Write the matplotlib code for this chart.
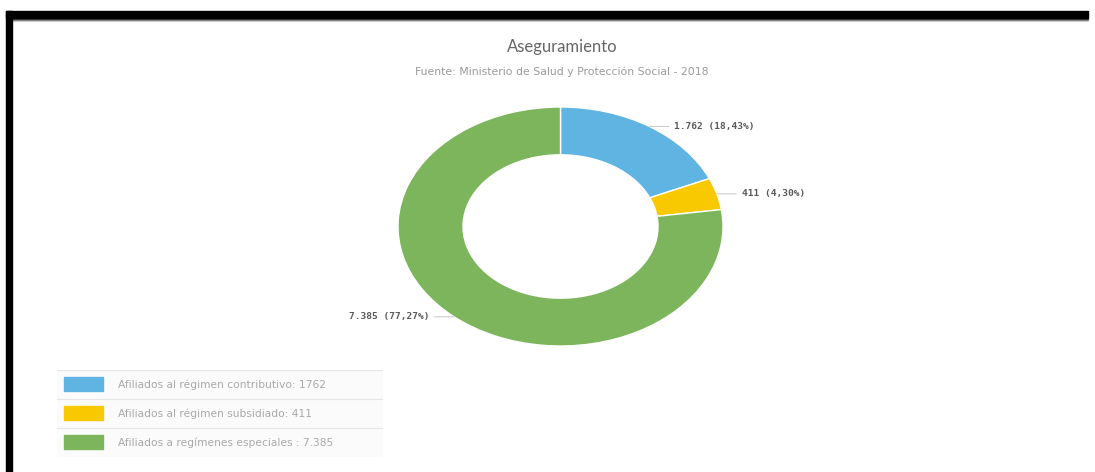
import matplotlib.pyplot as plt
from matplotlib.patches import Rectangle
import numpy as np

# Datos del grafico
categorias = ['Afiliados al régimen contributivo', 'Afiliados al régimen subsidiado',
              'Afiliados a regímenes especiales']
valores = [1762, 411, 7385]
porcentajes = ['18,43%', '4,30%', '77,27%']
etiquetas_valor = ['1.762', '411', '7.385']
leyenda_valor = ['1762', '411', '7.385']
colores = ['#5fb4e2', '#f8c900', '#7cb55b']

W, H = 1095, 472
fig = plt.figure(figsize=(W / 100, H / 100), dpi=100)
fig.patch.set_facecolor('white')

# Marco negro (borde superior e izquierdo)
fig.patches.append(Rectangle((6 / W, 1 - 18 / H), 1082 / W, 7 / H, transform=fig.transFigure,
                             color='black', zorder=5))
fig.patches.append(Rectangle((6 / W, 0), 6 / W, 1 - 11 / H, transform=fig.transFigure,
                             color='black', zorder=5))
for i, a in enumerate([0.45, 0.25, 0.1]):
    fig.patches.append(Rectangle((12 / W, 1 - (19 + i) / H), 1076 / W, 1 / H,
                                 transform=fig.transFigure, color='black', alpha=a, zorder=5))

# Titulos
fig.text(562 / W, 1 - 47 / H, 'Aseguramiento', ha='center', va='center',
         fontsize=12, color='#666666', family='Lato')
fig.text(562 / W, 1 - 72 / H, 'Fuente: Ministerio de Salud y Protección Social - 2018',
         ha='center', va='center', fontsize=7.8, color='#9a9a9a', family='DejaVu Sans')

# Dona (estirada horizontalmente como en la imagen)
cx, cy, rx, ry = 560.5, 226.5, 162.5, 119.5
ax = fig.add_axes([(cx - rx) / W, 1 - (cy + ry) / H, 2 * rx / W, 2 * ry / H])
wedges, _ = ax.pie(valores, colors=colores, startangle=90, counterclock=False,
                   wedgeprops=dict(width=0.4, edgecolor='white', linewidth=1))
ax.set_aspect('auto')
ax.set_xlim(-1, 1)
ax.set_ylim(-1, 1)
ax.axis('off')

for w, v, p in zip(wedges, etiquetas_valor, porcentajes):
    ang = np.deg2rad((w.theta1 + w.theta2) / 2)
    x, y = np.cos(ang), np.sin(ang)
    lado = 1 if x >= 0 else -1
    ax.annotate(f'{v} ({p})', xy=(x, y), xytext=(lado * 18, 0),
                textcoords='offset points', ha='left' if lado > 0 else 'right', va='center',
                fontsize=6.8, fontweight='bold', color='#5a5a5a', family='DejaVu Sans Mono',
                annotation_clip=False,
                arrowprops=dict(arrowstyle='-', color='#cccccc', lw=0.8, shrinkA=2, shrinkB=0))

# Leyenda
lx0, lx1, ly0, ly1 = 57, 383, 370, 457
lax = fig.add_axes([lx0 / W, 1 - ly1 / H, (lx1 - lx0) / W, (ly1 - ly0) / H])
lax.set_xlim(lx0, lx1)
lax.set_ylim(ly1, ly0)
lax.axis('off')
lax.add_patch(Rectangle((lx0, ly0), lx1 - lx0, ly1 - ly0, facecolor='#fbfbfb',
                        edgecolor='none'))
fila = (ly1 - ly0) / len(categorias)
for i, (cat, val, col) in enumerate(zip(categorias, leyenda_valor, colores)):
    y0 = ly0 + i * fila
    lax.plot([lx0, lx1], [y0, y0], color='#e6e6e6', lw=0.8)
    lax.add_patch(Rectangle((64, y0 + fila / 2 - 7), 39, 14, color=col))
    sep = ':' if i < 2 else ' :'
    lax.text(118, y0 + fila / 2, f'{cat}{sep} {val}', va='center', ha='left',
             fontsize=7.7, color='#a8a8a8', family='DejaVu Sans')

fig.savefig('out.png', dpi=100)
